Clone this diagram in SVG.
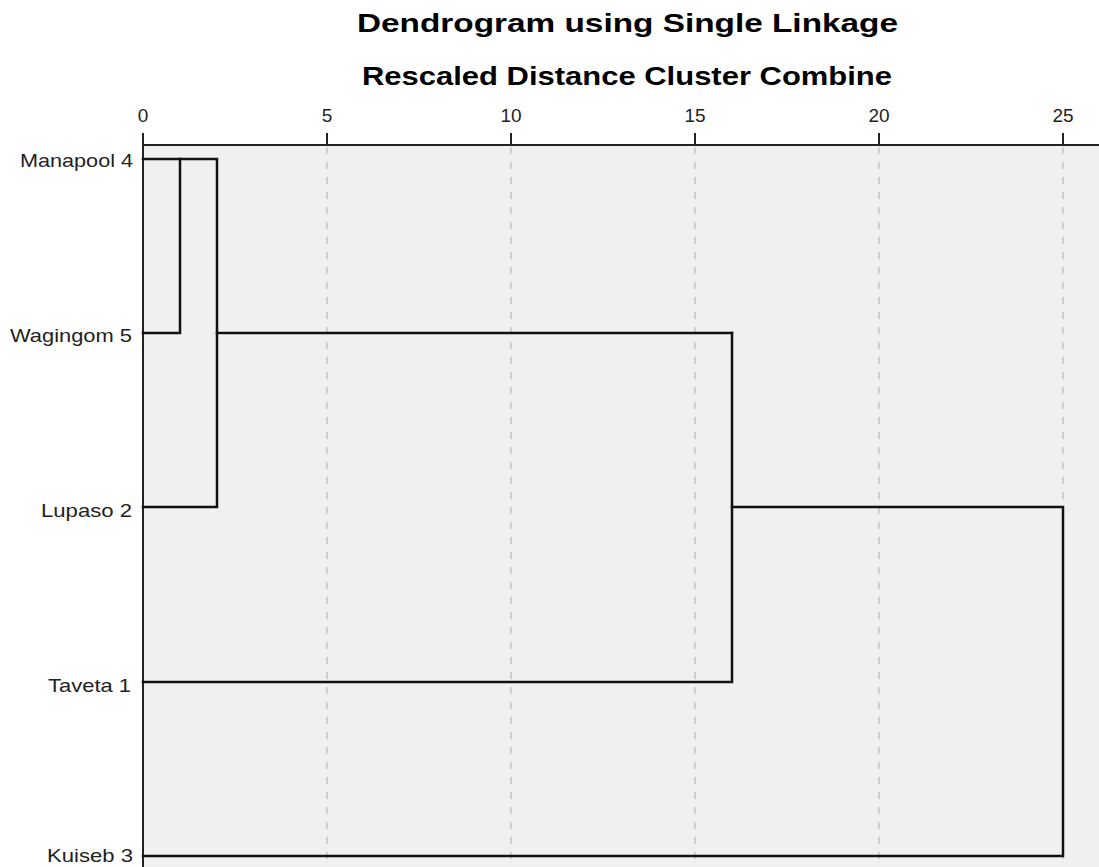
<svg xmlns="http://www.w3.org/2000/svg" width="1099" height="867" viewBox="0 0 1099 867">
<style>
.title{font-family:"Liberation Sans",Arial,sans-serif;font-weight:bold;font-size:26px;fill:#000}
.tick{font-family:"Liberation Sans",Arial,sans-serif;font-size:19px;fill:#222}
.lbl{font-family:"Liberation Sans",Arial,sans-serif;font-size:18.5px;fill:#222}
.grid{stroke:#cfcfcf;stroke-width:2;stroke-dasharray:7 8;fill:none}
.axis{stroke:#222;stroke-width:2;fill:none}
.link{stroke:#111;stroke-width:2.5;fill:none;stroke-linejoin:miter;stroke-linecap:square}
</style>
<rect width="1099" height="867" fill="#fff"/>
<rect x="143" y="145" width="956" height="722" fill="#f0f0f0"/>
<g id="title">
<text class="title" x="357" y="32" textLength="541" lengthAdjust="spacingAndGlyphs">Dendrogram using Single Linkage</text>
<text class="title" x="362" y="85" textLength="530" lengthAdjust="spacingAndGlyphs">Rescaled Distance Cluster Combine</text>
</g>
<g id="grid">
<line class="grid" x1="327" y1="147" x2="327" y2="867"/>
<line class="grid" x1="511" y1="147" x2="511" y2="867"/>
<line class="grid" x1="695" y1="147" x2="695" y2="867"/>
<line class="grid" x1="879" y1="147" x2="879" y2="867"/>
<line class="grid" x1="1063" y1="147" x2="1063" y2="867"/>
</g>
<g id="axis">
<line class="axis" x1="143" y1="145" x2="1099" y2="145"/>
<line class="axis" x1="143" y1="133" x2="143" y2="867"/>
<line class="axis" x1="327" y1="133" x2="327" y2="145"/>
<line class="axis" x1="511" y1="133" x2="511" y2="145"/>
<line class="axis" x1="695" y1="133" x2="695" y2="145"/>
<line class="axis" x1="879" y1="133" x2="879" y2="145"/>
<line class="axis" x1="1063" y1="133" x2="1063" y2="145"/>
<text class="tick" x="143" y="122" text-anchor="middle">0</text>
<text class="tick" x="327" y="122" text-anchor="middle">5</text>
<text class="tick" x="511" y="122" text-anchor="middle">10</text>
<text class="tick" x="695" y="122" text-anchor="middle">15</text>
<text class="tick" x="879" y="122" text-anchor="middle">20</text>
<text class="tick" x="1063" y="122" text-anchor="middle">25</text>
</g>
<g id="leaf-manapool"><text class="lbl" x="20" y="167" textLength="113" lengthAdjust="spacingAndGlyphs">Manapool 4</text></g>
<g id="leaf-wagingom"><text class="lbl" x="10" y="342" textLength="122" lengthAdjust="spacingAndGlyphs">Wagingom 5</text></g>
<g id="leaf-lupaso"><text class="lbl" x="41" y="517" textLength="91" lengthAdjust="spacingAndGlyphs">Lupaso 2</text></g>
<g id="leaf-taveta"><text class="lbl" x="48" y="692" textLength="83" lengthAdjust="spacingAndGlyphs">Taveta 1</text></g>
<g id="leaf-kuiseb"><text class="lbl" x="47" y="862" textLength="86" lengthAdjust="spacingAndGlyphs">Kuiseb 3</text></g>
<g id="connectors">
<polyline class="link" points="143,159 217,159 217,507 143,507"/>
<polyline class="link" points="180,159 180,333 143,333"/>
<line class="link" x1="217" y1="333" x2="732" y2="333"/>
<polyline class="link" points="732,333 732,682 143,682"/>
<polyline class="link" points="732,507 1063,507 1063,856 143,856"/>
</g>
</svg>
